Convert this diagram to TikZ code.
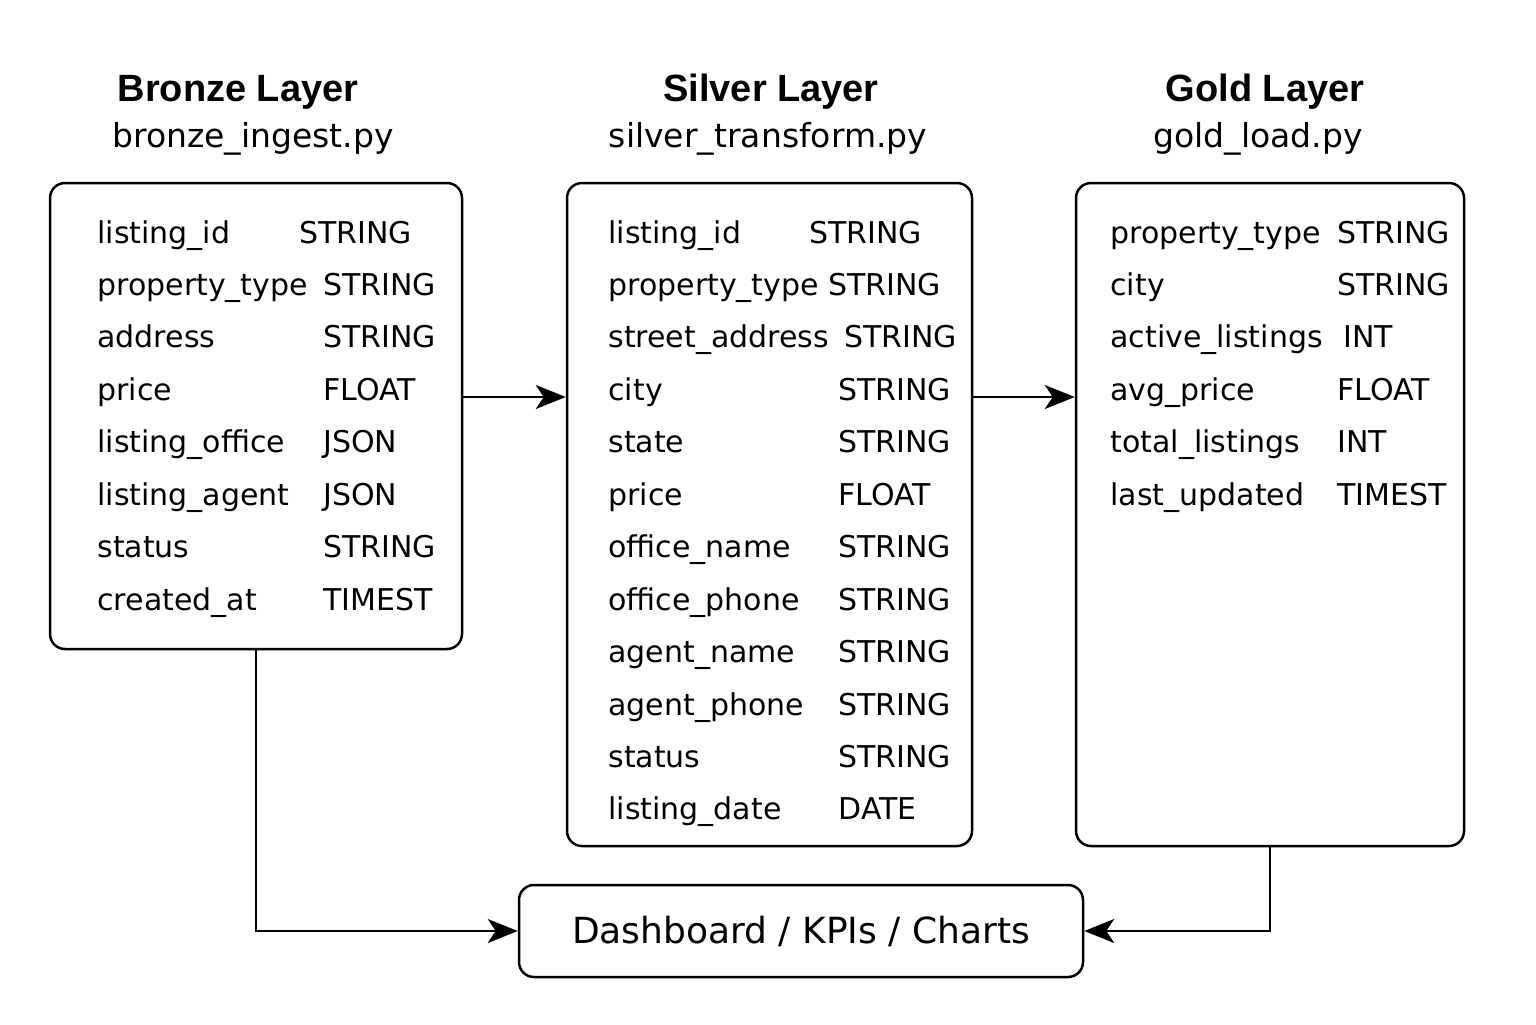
\documentclass[tikz,border=0pt]{standalone}
\usepackage{fontspec}
\setmainfont{DejaVu Sans}
\newfontfamily\titlefont{Liberation Sans}
\usetikzlibrary{arrows.meta}
\newcommand{\rowfont}{\fontsize{15pt}{18pt}\selectfont}
\newcommand{\subfont}{\fontsize{16.5pt}{20pt}\selectfont}
\newcommand{\headfont}{\titlefont\bfseries\fontsize{19pt}{23pt}\selectfont}
\tikzset{
  layerbox/.style={draw=black, line width=1.25pt, rounded corners=7.5pt, inner sep=0pt, fill=white},
  cell/.style={anchor=base west, inner sep=0pt, font=\rowfont},
  headtxt/.style={anchor=base, inner sep=0pt, font=\headfont},
  subtxt/.style={anchor=base, inner sep=0pt, font=\subfont},
  conn/.style={draw=black, line width=1pt, -{Stealth[length=15pt,width=12pt,inset=4pt]}},
}
\begin{document}
\begin{tikzpicture}[x=0.5pt,y=-0.5pt]
\useasboundingbox[fill=white] (0,0) rectangle (1536,1024);

% boxes
\node[layerbox, minimum width=206pt, minimum height=233pt] (bronze) at (256,416) {};
\node[layerbox, minimum width=202.5pt, minimum height=331.5pt] (silver) at (769.5,514.5) {};
\node[layerbox, minimum width=194pt, minimum height=331.5pt] (gold) at (1270,514.5) {};
\node[layerbox, minimum width=282pt, minimum height=46pt, font=\fontsize{18pt}{22pt}\selectfont] (dash) at (801,931) {Dashboard / KPIs / Charts};

% titles
\node[headtxt] (bh) at (238,101) {Bronze Layer};
\node[subtxt] (bs) at (253,147) {bronze\_ingest.py};
\node[headtxt] (sh) at (771,101) {Silver Layer};
\node[subtxt] (ss) at (768,147) {silver\_transform.py};
\node[headtxt] (gh) at (1265,101) {Gold Layer};
\node[subtxt] (gs) at (1258,147) {gold\_load.py};

% bronze rows
\node[cell] (bn0) at (97,243) {listing\_id};
\node[cell] (bt0) at (299,243) {STRING};
\foreach \n/\t [count=\i from 1] in {property\_type/STRING, address/STRING, price/FLOAT, listing\_office/JSON, listing\_agent/JSON, status/STRING, created\_at/TIMEST}{
  \node[cell] (bn\i) at (97,{243+52.45*\i}) {\n};
  \node[cell] (bt\i) at (323,{243+52.45*\i}) {\t};
}

% silver rows
\node[cell] (sn0) at (608,243) {listing\_id};
\node[cell] (st0) at (809,243) {STRING};
\node[cell] (sn1) at (608,295.45) {property\_type};
\node[cell] (st1) at (828,295.45) {STRING};
\node[cell] (sn2) at (608,347.9) {street\_address};
\node[cell] (st2) at (844,347.9) {STRING};
\foreach \n/\t [count=\i from 3] in {city/STRING, state/STRING, price/FLOAT, office\_name/STRING, office\_phone/STRING, agent\_name/STRING, agent\_phone/STRING, status/STRING, listing\_date/DATE}{
  \node[cell] (sn\i) at (608,{243+52.45*\i}) {\n};
  \node[cell] (st\i) at (838,{243+52.45*\i}) {\t};
}

% gold rows
\node[cell] (gn0) at (1110,243) {property\_type};
\node[cell] (gt0) at (1337,243) {STRING};
\node[cell] (gn1) at (1110,295.45) {city};
\node[cell] (gt1) at (1337,295.45) {STRING};
\node[cell] (gn2) at (1110,347.9) {active\_listings};
\node[cell] (gt2) at (1343,347.9) {INT};
\node[cell] (gn3) at (1110,400.35) {avg\_price};
\node[cell] (gt3) at (1337,400.35) {FLOAT};
\node[cell] (gn4) at (1110,452.8) {total\_listings};
\node[cell] (gt4) at (1337,452.8) {INT};
\node[cell] (gn5) at (1110,505.25) {last\_updated};
\node[cell] (gt5) at (1337,505.25) {TIMEST};

% connectors
\coordinate (lvl) at (0,397);
\draw[conn] (bronze.east |- lvl) -- (silver.west |- lvl);
\draw[conn] (silver.east |- lvl) -- (gold.west |- lvl);
\draw[conn] (bronze.south) |- (dash.west);
\draw[conn] (gold.south) |- (dash.east);
\end{tikzpicture}
\end{document}
